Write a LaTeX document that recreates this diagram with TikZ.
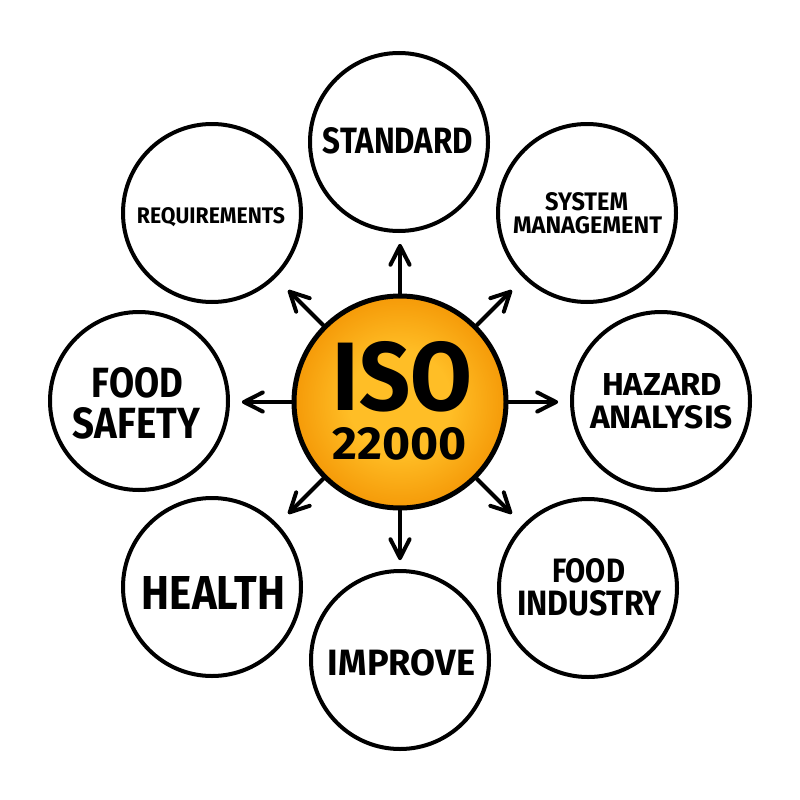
\documentclass[tikz,border=0pt]{standalone}
\usepackage{fontspec}
\setmainfont{Fira Sans}
\usetikzlibrary{calc}
\definecolor{orangeIn}{HTML}{FFBE26}
\definecolor{orangeOut}{HTML}{F59A08}
\pgfdeclareradialshading{isoshade}{\pgfpoint{0bp}{0bp}}{color(0bp)=(orangeIn); color(12bp)=(orangeIn); color(25bp)=(orangeOut); color(50bp)=(orangeOut)}
\newcommand\fitline[3]{\resizebox{#1pt}{#2pt}{\bfseries #3}}
\tikzset{
  topic/.style={circle, draw=black, line width=4pt, minimum size=178pt, inner sep=0pt, fill=white},
  hub/.style={circle, draw=black, line width=5pt, minimum size=212pt, inner sep=0pt, shading=isoshade},
  lbl/.style={anchor=base, inner sep=0pt, outer sep=0pt, text=black},
  arr/.style={line width=4pt, line cap=round, line join=round}
}
\begin{document}
\begin{tikzpicture}[x=1pt,y=-1pt]
\useasboundingbox[fill=white] (0,0) rectangle (800,800);
% hub
\node[hub] (c) at (400,402) {};
% topics
\node[topic] (std) at (399,142) {};
\node[topic] (sys) at (587,213) {};
\node[topic] (haz) at (661,401) {};
\node[topic] (ind) at (588,588) {};
\node[topic] (imp) at (400,660) {};
\node[topic] (hea) at (212,587) {};
\node[topic] (fs) at (139,401) {};
\node[topic] (req) at (212,213) {};
% arrows with chevron heads
\foreach \a/\n in {0/t0,45/t1,90/t2,135/t3,180/t4,225/t5,270/t6,315/t7}{
  \coordinate (\n) at ($(c.center)+(\a:156)$);
  \coordinate (\n l) at ($(\n)+(\a+153:21)$);
  \coordinate (\n r) at ($(\n)+(\a-153:21)$);
  \draw[arr] (c) -- (\n);
  \draw[arr] (\n l) -- (\n) -- (\n r);
}
% labels
\node[lbl] (lstd) at (398,153) {\fitline{150}{26}{STANDARD}};
\node[lbl] (lsys1) at (586.5,210) {\fitline{83}{18}{SYSTEM}};
\node[lbl] (lsys2) at (587.5,233) {\fitline{149}{17}{MANAGEMENT}};
\node[lbl] (lreq) at (211,223) {\fitline{148}{16}{REQUIREMENTS}};
\node[lbl] (lhaz1) at (662,395) {\fitline{120}{22}{HAZARD}};
\node[lbl] (lhaz2) at (661.5,428) {\fitline{143}{23}{ANALYSIS}};
\node[lbl] (lind1) at (588.5,582) {\fitline{73}{24}{FOOD}};
\node[lbl] (lind2) at (589.5,615) {\fitline{145}{25}{INDUSTRY}};
\node[lbl] (lhea) at (213.5,609) {\fitline{143}{33}{HEALTH}};
\node[lbl] (limp) at (401.5,675) {\fitline{147}{26}{IMPROVE}};
\node[lbl] (lfs1) at (137.5,397) {\fitline{91}{30}{FOOD}};
\node[lbl] (lfs2) at (136.5,438) {\fitline{127}{31}{SAFETY}};
\node[lbl] (liso1) at (402.5,410) {\fitline{139}{69}{ISO}};
\node[lbl] (liso2) at (400,459) {\fitline{134}{32}{22000}};
\end{tikzpicture}
\end{document}
